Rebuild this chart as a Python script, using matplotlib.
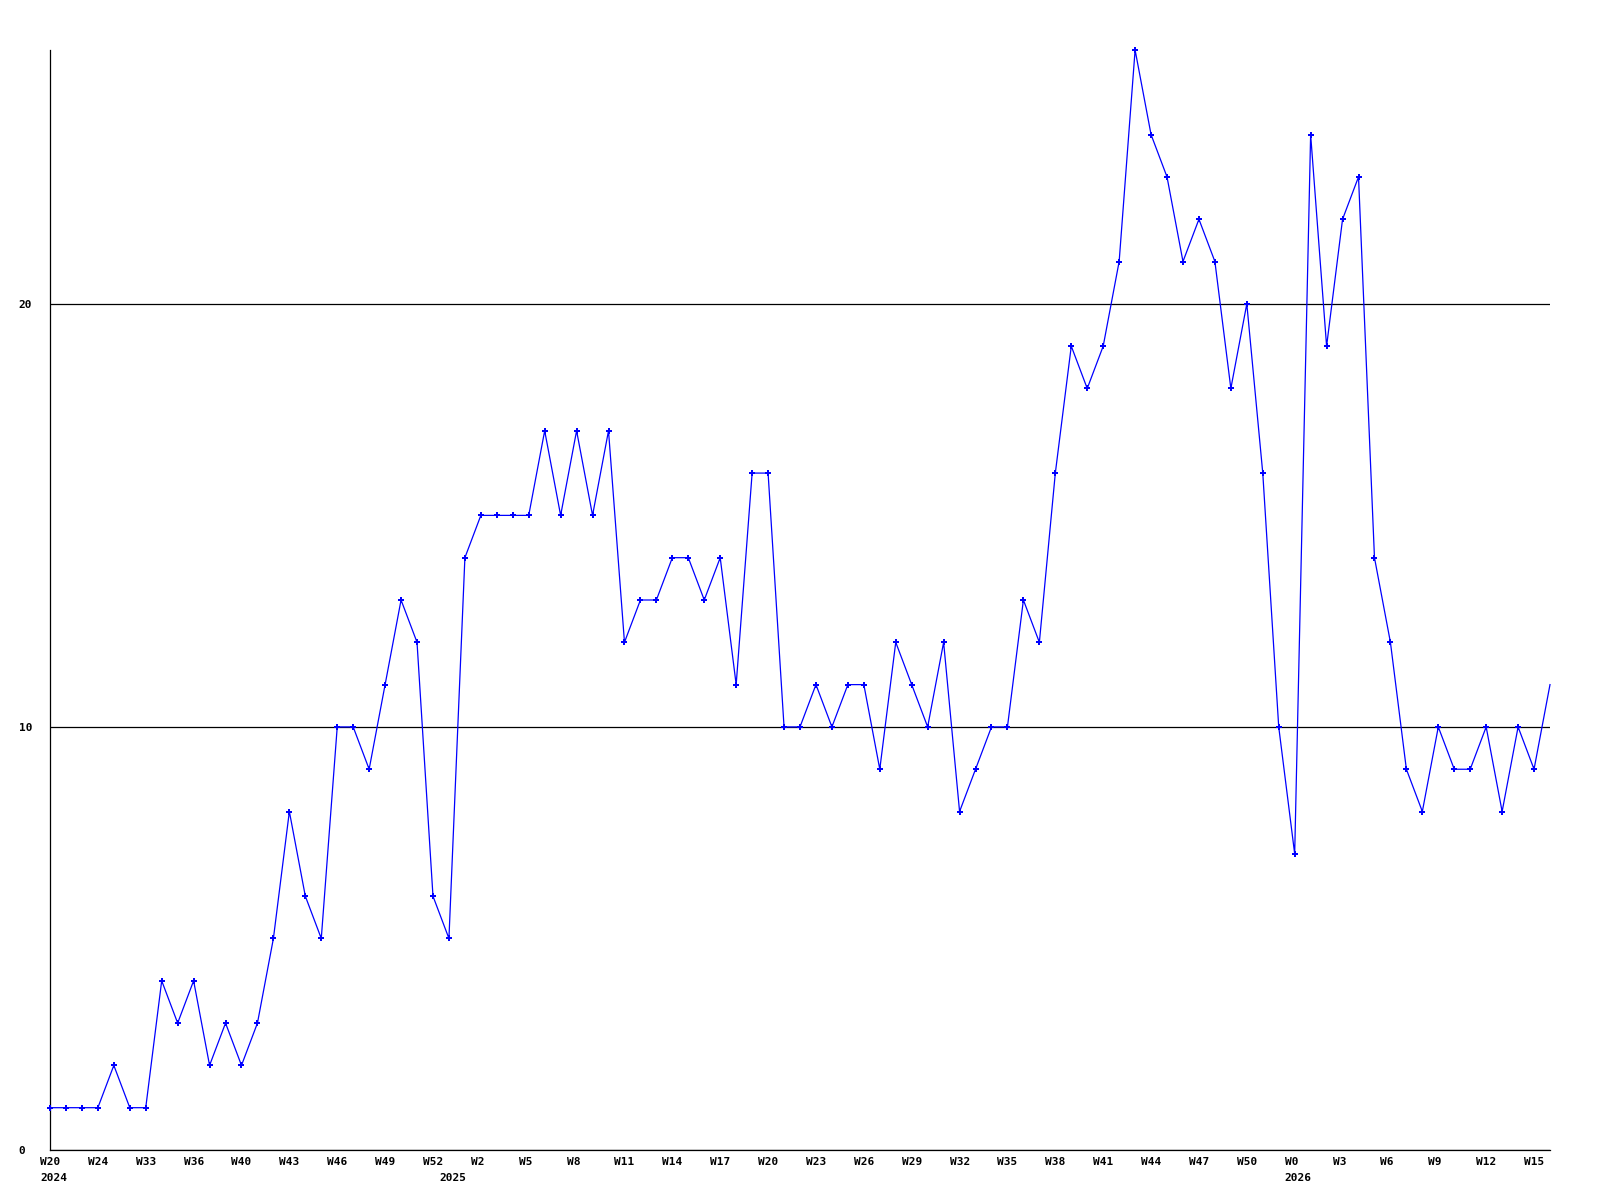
import matplotlib
matplotlib.use("Agg")
import matplotlib.pyplot as plt
from matplotlib.transforms import ScaledTranslation

values = [1, 1, 1, 1, 2, 1, 1, 4, 3, 4,
          2, 3, 2, 3, 5, 8, 6, 5, 10, 10,
          9, 11, 13, 12, 6, 5, 14, 15, 15, 15,
          15, 17, 15, 17, 15, 17, 12, 13, 13, 14,
          14, 13, 14, 11, 16, 16, 10, 10, 11, 10,
          11, 11, 9, 12, 11, 10, 12, 8, 9, 10,
          10, 13, 12, 16, 19, 18, 19, 21, 26, 24,
          23, 21, 22, 21, 18, 20, 16, 10, 7, 24,
          19, 22, 23, 14, 12, 9, 8, 10, 9, 9,
          10, 8, 10, 9, 11]

week_labels = ["W20", "W24", "W33", "W36", "W40", "W43", "W46", "W49", "W52",
               "W2", "W5", "W8", "W11", "W14", "W17", "W20", "W23", "W26",
               "W29", "W32", "W35", "W38", "W41", "W44", "W47", "W50",
               "W0", "W3", "W6", "W9", "W12", "W15"]
year_labels = ["2024", "2025", "2026"]
year_positions = [0, 25, 78]
label_step = 3
y_ticks = [0, 10, 20]
y_max = 26

DPI = 100
fig = plt.figure(figsize=(16, 12), dpi=DPI)
ax = fig.add_axes([50 / 1600, 1 - 1150 / 1200, 1500 / 1600, 1100 / 1200])

x = list(range(len(values)))
ax.plot(x, values, color="#0000FF", lw=0.9, marker="P", ms=4.5, mew=0,
        markevery=list(range(len(values) - 1)), clip_on=False, zorder=3)

ax.set_xlim(0, len(values) - 1)
ax.set_ylim(0, y_max)

font = dict(fontfamily="DejaVu Sans Mono", fontweight="bold", fontsize=8)

tick_pos = [i * label_step for i in range(len(week_labels))]
ax.tick_params(axis="x", length=0, pad=5.0)
ax.tick_params(axis="y", length=0, pad=22.5)
ax.set_xticks(tick_pos)
ax.set_xticklabels(week_labels, ha="left", va="top", **font)
shift = ScaledTranslation(-10 / DPI, 0, fig.dpi_scale_trans)
for t in ax.get_xticklabels():
    t.set_transform(t.get_transform() + shift)

for pos, yl in zip(year_positions, year_labels):
    ax.annotate(yl, xy=(pos, 0), xycoords=("data", "axes fraction"),
                xytext=(-10 * 72 / DPI, -23 * 72 / DPI), textcoords="offset points",
                ha="left", va="top", annotation_clip=False, **font)

ax.set_yticks(y_ticks)
ax.set_yticklabels([str(v) for v in y_ticks], ha="left", **font)

ax.yaxis.grid(True, color="black", lw=0.9)
ax.set_axisbelow(True)
for s in ("top", "right"):
    ax.spines[s].set_visible(False)
for s in ("left", "bottom"):
    ax.spines[s].set_color("black")
    ax.spines[s].set_linewidth(0.9)

fig.savefig("out.png", dpi=DPI)
